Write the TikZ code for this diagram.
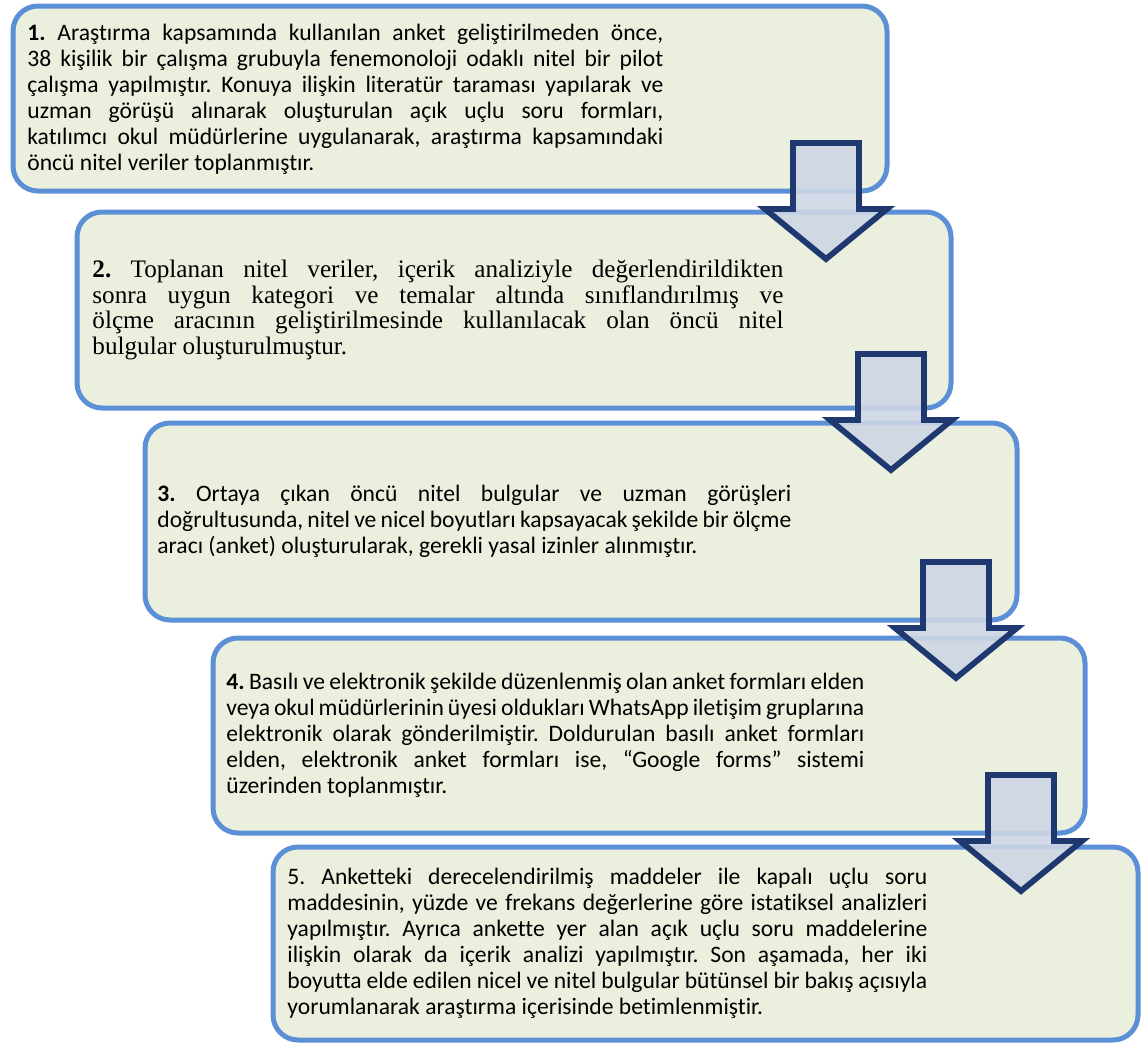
\documentclass[tikz,border=0pt]{standalone}
\usepackage{fontspec}
\setmainfont{Carlito}[Ligatures={NoCommon}]
\newfontfamily\cambriasub{Liberation Serif}[Ligatures={NoCommon}]
\definecolor{boxfill}{HTML}{EBF0DE}
\definecolor{boxline}{HTML}{5B8FD6}
\definecolor{arrline}{HTML}{1F386F}
\definecolor{arrfill}{HTML}{CED6E4}
\newcommand{\jl}[2]{\makebox[#1][s]{#2}\\}
\frenchspacing
\begin{document}
\begin{tikzpicture}[x=0.5pt,y=-0.5pt,
  stepbox/.style={draw=boxline, fill=boxfill, line width=2.5pt, rounded corners=12.5pt, inner sep=0pt},
  txt/.style={anchor=west, inner sep=0pt, align=left, text=black, font=\frenchspacing\fontsize{11.8}{13}\selectfont},
  serftxt/.style={anchor=west, inner sep=0pt, align=left, text=black, font=\frenchspacing\cambriasub\fontsize{12.6}{12.8}\selectfont},
  blockarrow/.style={draw=arrline, fill=arrfill, fill opacity=0.9, line width=2.9pt, miter limit=10}]
\useasboundingbox (0,0) rectangle (1141,1044);

% boxes
\node[stepbox, minimum width=437pt, minimum height=92.5pt] (b1) at (450,98.5) {};
\node[stepbox, minimum width=437pt, minimum height=98pt] (b2) at (514,310) {};
\node[stepbox, minimum width=436pt, minimum height=98.5pt] (b3) at (581,521.5) {};
\node[stepbox, minimum width=436pt, minimum height=97.5pt] (b4) at (649,735.5) {};
\node[stepbox, minimum width=432.5pt, minimum height=96.5pt] (b5) at (705.5,943.5) {};

% texts
\node[txt] (t1) at (27,99.5) {%
\jl{318pt}{\textbf{1.} Araştırma kapsamında kullanılan anket geliştirilmeden önce,}
\jl{318pt}{38 kişilik bir çalışma grubuyla fenemonoloji odaklı nitel bir pilot}
\jl{318pt}{çalışma yapılmıştır. Konuya ilişkin literatür taraması yapılarak ve}
\jl{318pt}{uzman görüşü alınarak oluşturulan açık uçlu soru formları,}
\jl{318pt}{katılımcı okul müdürlerine uygulanarak, araştırma kapsamındaki}
öncü nitel veriler toplanmıştır.};

\node[serftxt] (t2) at (92,310) {%
\jl{345.5pt}{\textbf{2.} Toplanan nitel veriler, içerik analiziyle değerlendirildikten}
\jl{345.5pt}{sonra uygun kategori ve temalar altında sınıflandırılmış ve}
\jl{345.5pt}{ölçme aracının geliştirilmesinde kullanılacak olan öncü nitel}
bulgular oluşturulmuştur.};

\node[txt] (t3) at (157,521.5) {%
\jl{317pt}{\textbf{3.} Ortaya çıkan öncü nitel bulgular ve uzman görüşleri}
\jl{317pt}{doğrultusunda, nitel ve nicel boyutları kapsayacak şekilde bir ölçme}
aracı (anket) oluşturularak, gerekli yasal izinler alınmıştır.};

\node[txt] (t4) at (226,735.5) {%
\jl{319pt}{\textbf{4.} Basılı ve elektronik şekilde düzenlenmiş olan anket formları elden}
\jl{319pt}{veya okul müdürlerinin üyesi oldukları WhatsApp iletişim gruplarına}
\jl{319pt}{elektronik olarak gönderilmiştir. Doldurulan basılı anket formları}
\jl{319pt}{elden, elektronik anket formları ise, “Google forms” sistemi}
üzerinden toplanmıştır.};

\node[txt] (t5) at (287,943.5) {%
\jl{320pt}{5. Anketteki derecelendirilmiş maddeler ile kapalı uçlu soru}
\jl{320pt}{maddesinin, yüzde ve frekans değerlerine göre istatiksel analizleri}
\jl{320pt}{yapılmıştır. Ayrıca ankette yer alan açık uçlu soru maddelerine}
\jl{320pt}{ilişkin olarak da içerik analizi yapılmıştır. Son aşamada, her iki}
\jl{320pt}{boyutta elde edilen nicel ve nitel bulgular bütünsel bir bakış açısıyla}
yorumlanarak araştırma içerisinde betimlenmiştir.};

% block arrows
\foreach \c/\t [count=\i] in {826/140, 891/351, 956/559, 1021/772}{
  \coordinate (a\i) at (\c,\t);
  \draw[blockarrow] ([shift={(-33,3)}]a\i) -- ([shift={(33,3)}]a\i) -- ([shift={(33,69)}]a\i)
    -- ([shift={(61,69)}]a\i) -- ([shift={(0,119)}]a\i) -- ([shift={(-61,69)}]a\i)
    -- ([shift={(-33,69)}]a\i) -- cycle;
}
\end{tikzpicture}
\end{document}
